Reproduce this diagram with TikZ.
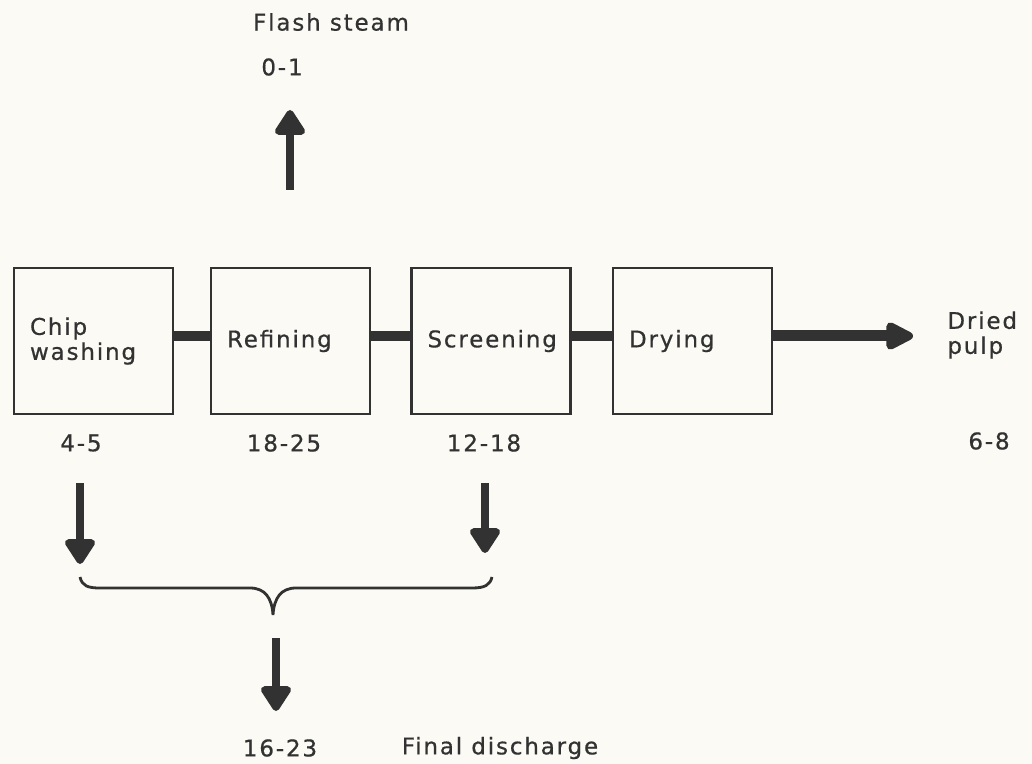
\documentclass[tikz,border=0pt]{standalone}
\usepackage{fontspec}
\setmainfont{DejaVu Sans}[LetterSpace=8, FakeBold=0.6]
\usetikzlibrary{arrows.meta}
\definecolor{ink}{RGB}{50,50,50}
\definecolor{paper}{RGB}{251,250,245}
\begin{document}
\begin{tikzpicture}[x=0.5pt, y=-0.5pt, font=\fontsize{11.5}{12.5}\selectfont,
    stage/.style={draw=ink, line width=1.4pt, minimum width=79.5pt, minimum height=73pt,
        text width=63.5pt, align=left, inner sep=0pt, text=ink},
    note/.style={text=ink, inner sep=0pt, align=left},
    link/.style={ink, line width=5pt},
    flow/.style={ink, line width=5.5pt, -{Triangle[length=16pt, width=15pt, round]}},
    drop/.style={ink, line width=4pt, -{Triangle[length=14pt, width=17pt, round]}}]
    % Paper
    \fill[paper] (0,0) rectangle (1032,764);
    \useasboundingbox (0,0) rectangle (1032,764);

    % Process stages
    \node[stage] (chip)   at (93.5,341)  {Chip\\washing};
    \node[stage] (refine) at (290.5,341) {Refining};
    \node[stage] (screen) at (491,341)   {Screening};
    \node[stage] (dry)    at (692.5,341) {Drying};

    % Links between stages
    \draw[link] ([yshift=2.5pt]chip.east)   -- ([yshift=2.5pt]refine.west);
    \draw[link] ([yshift=2.5pt]refine.east) -- ([yshift=2.5pt]screen.west);
    \draw[link] ([yshift=2.5pt]screen.east) -- ([yshift=2.5pt]dry.west);

    % Product
    \coordinate (pulptip) at (913,336);
    \draw[flow] ([yshift=2.5pt]dry.east) -- (pulptip);
    \node[note, anchor=west] (pulp) at (947,335) {Dried\\pulp};
    \node[note] (pulpval) at (989,441) {6-8};

    % Flash steam
    \node[note] (steam)    at (331,22) {Flash steam};
    \node[note] (steamval) at (282,67) {0-1};
    \coordinate (steamfoot) at (290,190);
    \coordinate (steamtip)  at (290,110);
    \draw[drop] (steamfoot) -- (steamtip);

    % Loads per stage
    \node[note] (chipval)   at (81,443)  {4-5};
    \node[note] (refineval) at (284,443) {18-25};
    \node[note] (screenval) at (484,443) {12-18};

    % Effluent streams
    \coordinate (chipfoot)   at (80,483);
    \coordinate (chiptip)    at (80,564);
    \coordinate (screenfoot) at (485,483);
    \coordinate (screentip)  at (485,553);
    \draw[drop] (chipfoot) -- (chiptip);
    \draw[drop] (screenfoot) -- (screentip);

    % Brace joining the streams
    \draw[ink, line width=1.4pt] (80,577) .. controls (82,586) and (88,588) .. (100,588)
        -- (250,588) .. controls (265,588) and (272,598) .. (273,615)
        .. controls (274,598) and (281,588) .. (296,588)
        -- (472,588) .. controls (485,588) and (490,585) .. (492,577);

    % Final discharge
    \coordinate (dischfoot) at (276,638);
    \coordinate (dischtip)  at (276,711);
    \draw[drop] (dischfoot) -- (dischtip);
    \node[note] (dischval) at (280,748) {16-23};
    \node[note] (disch)    at (500,748) {Final discharge};
\end{tikzpicture}
\end{document}
